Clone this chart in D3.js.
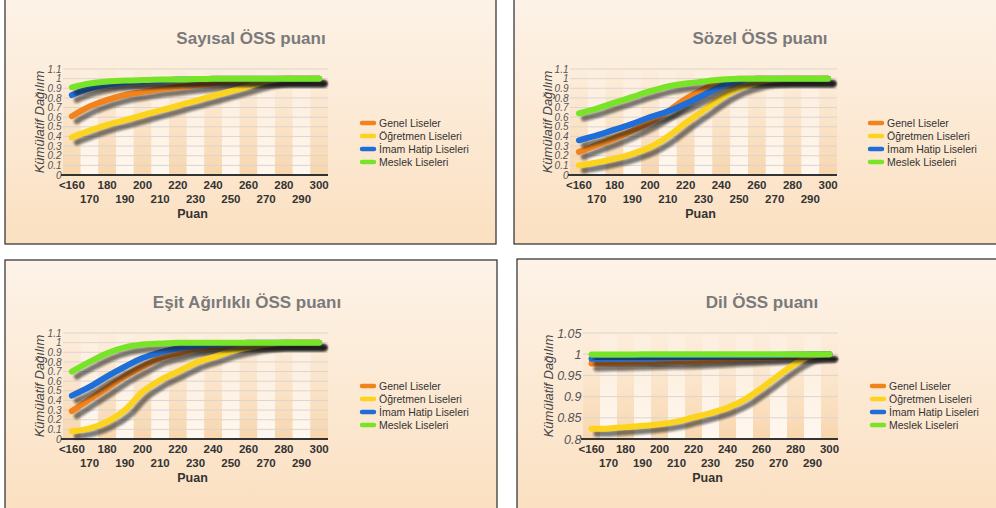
<!DOCTYPE html>
<html>
<head>
<meta charset="utf-8">
<script src="https://cdn.jsdelivr.net/npm/d3@7"></script>
<style>
  body { margin: 0; background: #ffffff; }
  svg { display: block; font-family: "Liberation Sans", Arial, sans-serif; }
</style>
</head>
<body>
<svg id="chart" width="996" height="508"></svg>
<script>
// puan kategorileri
let categories = ["<160","170","180","190","200","210","220","230","240","250","260","270","280","290","300"];
let seriesNames = ["Genel Liseler","Öğretmen Liseleri","İmam Hatip Liseleri","Meslek Liseleri"];
let seriesColors = ["#f2831c","#fcd41e","#1d6ed8","#78e428"];

let ticksMain = [0,0.1,0.2,0.3,0.4,0.5,0.6,0.7,0.8,0.9,1,1.1];
let ticksDil = [0.8,0.85,0.9,0.95,1,1.05];

// Sayısal
let sayisalGenel    = [0.61,0.71,0.78,0.83,0.86,0.89,0.91,0.93,0.95,0.97,0.98,0.99,1,1,1];
let sayisalOgretmen = [0.39,0.46,0.52,0.57,0.62,0.67,0.72,0.77,0.82,0.87,0.92,0.97,1,1,1];
let sayisalImam     = [0.83,0.90,0.94,0.96,0.97,0.98,0.99,0.99,1,1,1,1,1,1,1];
let sayisalMeslek   = [0.91,0.95,0.97,0.98,0.985,0.99,0.99,0.995,1,1,1,1,1,1,1];

// Sözel
let sozelGenel    = [0.24,0.31,0.38,0.46,0.55,0.66,0.79,0.89,0.97,1,1,1,1,1,1];
let sozelOgretmen = [0.10,0.13,0.17,0.22,0.29,0.40,0.54,0.67,0.80,0.90,0.96,0.99,1,1,1];
let sozelImam     = [0.36,0.41,0.47,0.53,0.60,0.66,0.74,0.83,0.92,0.98,1,1,1,1,1];
let sozelMeslek   = [0.64,0.69,0.75,0.81,0.87,0.92,0.95,0.97,0.99,1,1,1,1,1,1];

// Eşit Ağırlıklı
let esitGenel    = [0.29,0.41,0.53,0.65,0.75,0.84,0.89,0.93,0.95,0.97,0.98,0.99,1,1,1];
let esitOgretmen = [0.08,0.11,0.18,0.30,0.49,0.61,0.70,0.79,0.85,0.91,0.95,0.98,1,1,1];
let esitImam     = [0.45,0.54,0.65,0.75,0.84,0.90,0.94,0.96,0.98,0.99,1,1,1,1,1];
let esitMeslek   = [0.70,0.80,0.89,0.95,0.98,0.99,1,1,1,1,1,1,1,1,1];

// Dil
let dilGenel    = [0.978,0.979,0.980,0.981,0.982,0.983,0.984,0.986,0.988,0.990,0.992,0.994,0.996,0.998,1.0];
let dilOgretmen = [0.824,0.825,0.828,0.831,0.835,0.841,0.851,0.861,0.874,0.893,0.920,0.950,0.978,0.997,1.0];
let dilImam     = [0.989,0.989,0.990,0.990,0.991,0.992,0.993,0.994,0.995,0.996,0.997,0.998,0.999,1,1];
let dilMeslek   = [0.999,0.999,0.999,1,1,1,1,1,1,1,1,1,1,1,1];

let panels = [
    {title:"Sayısal ÖSS puanı", box:[5,-4,491,248], plot:[63,69,328,175], ydom:[0,1.1], ticks:ticksMain,
     series:[sayisalGenel,sayisalOgretmen,sayisalImam,sayisalMeslek], tx:251, ty:44, legend:[362,123], yfont:10, ytitle:39},
    {title:"Sözel ÖSS puanı", box:[514,-4,490,248], plot:[570,69,837,175], ydom:[0,1.1], ticks:ticksMain,
     series:[sozelGenel,sozelOgretmen,sozelImam,sozelMeslek], tx:760, ty:44, legend:[870,123], yfont:10, ytitle:547},
    {title:"Eşit Ağırlıklı ÖSS puanı", box:[5,260,492,252], plot:[63,333,328,439], ydom:[0,1.1], ticks:ticksMain,
     series:[esitGenel,esitOgretmen,esitImam,esitMeslek], tx:247, ty:308, legend:[362,386], yfont:10, ytitle:39},
    {title:"Dil ÖSS puanı", box:[517,259,490,253], plot:[583,333,838,439], ydom:[0.8,1.05], ticks:ticksDil,
     series:[dilGenel,dilOgretmen,dilImam,dilMeslek], tx:762, ty:308, legend:[872,386], yfont:12.5, ytitle:548}
];

let svg = d3.select("#chart");
let defs = svg.append("defs");

let bg = defs.append("linearGradient").attr("id","bg").attr("x1",0).attr("y1",0).attr("x2",0).attr("y2",1);
bg.append("stop").attr("offset","0%").attr("stop-color","#fdf3e8");
bg.append("stop").attr("offset","100%").attr("stop-color","#fbe0c1");

let peach = defs.append("linearGradient").attr("id","peach").attr("x1",0).attr("y1",0).attr("x2",0).attr("y2",1);
peach.append("stop").attr("offset","0%").attr("stop-color","#fcebd8").attr("stop-opacity",0.3);
peach.append("stop").attr("offset","100%").attr("stop-color","#f8d6ad").attr("stop-opacity",1);

let light = defs.append("linearGradient").attr("id","light").attr("x1",0).attr("y1",0).attr("x2",0).attr("y2",1);
light.append("stop").attr("offset","0%").attr("stop-color","#fdf2e6").attr("stop-opacity",0.4);
light.append("stop").attr("offset","100%").attr("stop-color","#fff8f0").attr("stop-opacity",1);

defs.append("filter").attr("id","blur").attr("x","-10%").attr("y","-50%").attr("width","120%").attr("height","200%")
    .append("feGaussianBlur").attr("stdDeviation",1.3);

panels.forEach(function(p) {

    let g = svg.append("g");
    let [l, t, r, b] = p.plot;

    g.append("rect")
        .attr("x",p.box[0]).attr("y",p.box[1])
        .attr("width",p.box[2]).attr("height",p.box[3])
        .style("fill","url(#bg)")
        .style("stroke","#2a2a2a")
        .style("stroke-width",1.2);

    let xscale = d3.scaleBand().domain(categories).range([l,r]);
    let yscale = d3.scaleLinear().domain(p.ydom).range([b,t]);
    let cx = d => xscale(d) + xscale.bandwidth()/2;

    // franjas
    g.selectAll(".franja")
        .data(categories)
        .join("rect")
        .attr("class","franja")
        .attr("x",d => xscale(d))
        .attr("y",t)
        .attr("width",xscale.bandwidth())
        .attr("height",b - t)
        .style("fill",(d,i) => i % 2 == 0 ? "url(#peach)" : "url(#light)");

    g.selectAll(".grid")
        .data(p.ticks)
        .join("line")
        .attr("class","grid")
        .attr("x1",l).attr("x2",r)
        .attr("y1",d => yscale(d)).attr("y2",d => yscale(d))
        .style("stroke","#dcd5cf")
        .style("stroke-width",1);

    g.selectAll(".ylab")
        .data(p.ticks)
        .join("text")
        .attr("class","ylab")
        .attr("x",l - 1.5)
        .attr("y",d => yscale(d) + p.yfont*0.36)
        .text(d => String(+d.toFixed(2)))
        .style("text-anchor","end")
        .style("font-style","italic")
        .style("font-size",p.yfont + "px")
        .style("fill","#555");

    g.append("text")
        .attr("transform","translate(" + p.ytitle + "," + (t + b)/2 + ") rotate(-90)")
        .attr("dy","0.35em")
        .text("Kümülatif Dağılım")
        .style("text-anchor","middle")
        .style("font-style","italic")
        .style("font-size","13px")
        .style("fill","#444");

    g.append("line")
        .attr("x1",l - 2).attr("x2",r)
        .attr("y1",b).attr("y2",b)
        .style("stroke","#333")
        .style("stroke-width",2);

    g.selectAll(".xlab")
        .data(categories)
        .join("text")
        .attr("class","xlab")
        .attr("x",d => cx(d))
        .attr("y",(d,i) => b + (i % 2 == 0 ? 14 : 28))
        .text(d => d)
        .style("text-anchor","middle")
        .style("font-weight","bold")
        .style("font-size","11.5px")
        .style("fill","#333");

    g.append("text")
        .attr("x",(l + r)/2 - 3)
        .attr("y",b + 43)
        .text("Puan")
        .style("text-anchor","middle")
        .style("font-weight","bold")
        .style("font-size","12.5px")
        .style("fill","#333");

    let linea = d3.line()
        .x((d,i) => cx(categories[i]))
        .y(d => yscale(d))
        .curve(d3.curveMonotoneX);

    p.series.forEach(function(s,k) {
        g.append("path")
            .attr("d",linea(s))
            .attr("transform","translate(5,5)")
            .attr("filter","url(#blur)")
            .style("fill","none")
            .style("stroke","#1a1a1a")
            .style("stroke-opacity",0.55)
            .style("stroke-width",6)
            .style("stroke-linecap","round");
        g.append("path")
            .attr("d",linea(s))
            .style("fill","none")
            .style("stroke",seriesColors[k])
            .style("stroke-width",6)
            .style("stroke-linecap","round");
    });

    // leyenda
    let ley = g.selectAll(".ley")
        .data(seriesNames)
        .join("g")
        .attr("class","ley")
        .attr("transform",(d,i) => "translate(" + p.legend[0] + "," + (p.legend[1] + i*13) + ")");

    ley.append("line")
        .attr("x1",2).attr("x2",14).attr("y1",2).attr("y2",2)
        .attr("filter","url(#blur)")
        .style("stroke","#333").style("stroke-opacity",0.5)
        .style("stroke-width",4.5).style("stroke-linecap","round");
    ley.append("line")
        .attr("x1",0).attr("x2",12).attr("y1",0).attr("y2",0)
        .style("stroke",(d,i) => seriesColors[i])
        .style("stroke-width",4.5).style("stroke-linecap","round");
    ley.append("text")
        .attr("x",17)
        .attr("y",3.8)
        .text(d => d)
        .style("font-size","10.5px")
        .style("fill","#333");

    g.append("text")
        .attr("x",p.tx)
        .attr("y",p.ty)
        .text(p.title)
        .style("text-anchor","middle")
        .style("font-weight","bold")
        .style("font-size","17px")
        .style("fill","#7a7a7a");
});
</script>
</body>
</html>
